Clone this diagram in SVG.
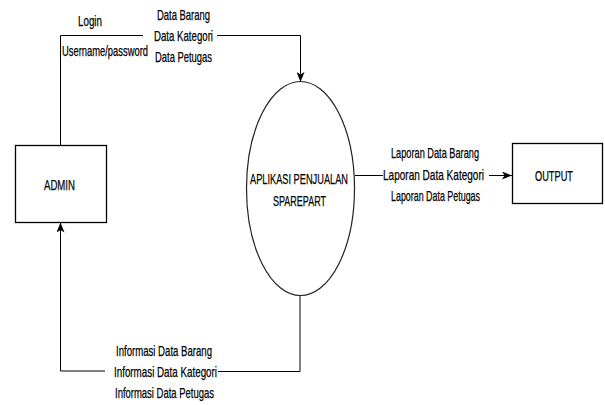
<svg xmlns="http://www.w3.org/2000/svg" width="605" height="405" viewBox="0 0 605 405">
  <style>
    text { font-family: "Liberation Sans", Arial, sans-serif; font-size: 15px; fill: #000; stroke: #000; stroke-width: 0.25; }
    .box { fill: #fff; stroke: #000; stroke-width: 1.3; }
    .proc { fill: #fff; stroke: #222; stroke-width: 1.2; }
    .flow { fill: none; stroke: #000; stroke-width: 1; }
  </style>
  <defs>
    <marker id="arrow" viewBox="0 0 10 8" refX="10" refY="4" markerWidth="10" markerHeight="8" orient="auto" markerUnits="userSpaceOnUse">
      <path d="M0,0 L10,4 L0,8 L2.5,4 z" fill="#000"/>
    </marker>
  </defs>

  <!-- data flows -->
  <g id="connectors">
    <path class="flow" d="M60.5,145 V35.5 H143"/>
    <path class="flow" d="M217,35.5 H300.5 V82" marker-end="url(#arrow)"/>
    <path class="flow" d="M355,175.5 H383"/>
    <path class="flow" d="M489,175.5 H512" marker-end="url(#arrow)"/>
    <path class="flow" d="M300,295 V371.5 H218"/>
    <path class="flow" d="M105,371 H60.5 V222.5" marker-end="url(#arrow)"/>
  </g>

  <!-- flow labels -->
  <g id="labels">
    <text x="78" y="26" textLength="24" lengthAdjust="spacingAndGlyphs">Login</text>
    <text x="62" y="56" textLength="86" lengthAdjust="spacingAndGlyphs">Username/password</text>
    <text x="157" y="20" textLength="53" lengthAdjust="spacingAndGlyphs">Data Barang</text>
    <text x="154" y="41" textLength="59" lengthAdjust="spacingAndGlyphs">Data Kategori</text>
    <text x="155" y="62" textLength="57" lengthAdjust="spacingAndGlyphs">Data Petugas</text>
    <text x="391" y="158" textLength="88" lengthAdjust="spacingAndGlyphs">Laporan Data Barang</text>
    <text x="383" y="180" textLength="101" lengthAdjust="spacingAndGlyphs">Laporan Data Kategori</text>
    <text x="391" y="201" textLength="89" lengthAdjust="spacingAndGlyphs">Laporan Data Petugas</text>
    <text x="116" y="356" textLength="96" lengthAdjust="spacingAndGlyphs">Informasi Data Barang</text>
    <text x="114" y="377" textLength="103" lengthAdjust="spacingAndGlyphs">Informasi Data Kategori</text>
    <text x="115" y="398" textLength="99" lengthAdjust="spacingAndGlyphs">Informasi Data Petugas</text>
  </g>

  <g id="admin">
    <rect class="box" x="15.5" y="145.5" width="91" height="77"/>
    <text x="44" y="190" textLength="31" lengthAdjust="spacingAndGlyphs">ADMIN</text>
  </g>

  <g id="process">
    <ellipse class="proc" cx="300.5" cy="188.5" rx="54" ry="107"/>
    <text x="250" y="184" textLength="98" lengthAdjust="spacingAndGlyphs">APLIKASI PENJUALAN</text>
    <text x="273" y="206" textLength="53" lengthAdjust="spacingAndGlyphs">SPAREPART</text>
  </g>

  <g id="output">
    <rect class="box" x="512.5" y="143.5" width="90" height="60"/>
    <text x="535" y="181" textLength="38" lengthAdjust="spacingAndGlyphs">OUTPUT</text>
  </g>
</svg>
